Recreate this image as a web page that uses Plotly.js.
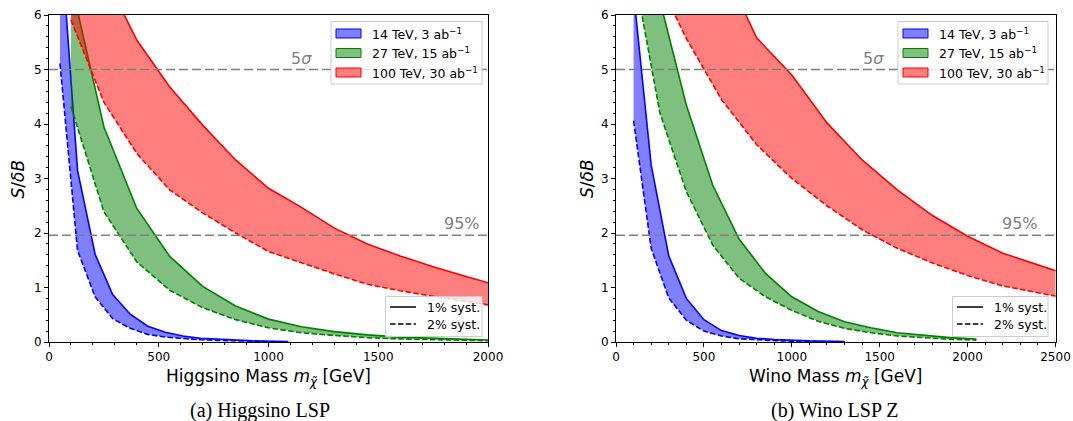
<!DOCTYPE html>
<html>
<head>
<meta charset="utf-8">
<script src="https://cdn.plot.ly/plotly-3.0.1.min.js"></script>
<style>
  html, body { margin: 0; padding: 0; background: #fff; }
  #chart { width: 1073px; height: 421px; }
</style>
</head>
<body>
<div id="chart"></div>
<script>
// S/deltaB reach bands: solid = 1% syst., dashed = 2% syst.

// (a) Higgsino LSP
const higgsBlueMass = [50, 130, 210, 290, 370, 450, 530, 610, 690, 770, 850, 930, 1010, 1090];
const higgsBlue1 = [7.6, 3.15, 1.61, 0.87, 0.51, 0.29, 0.18, 0.11, 0.07, 0.05, 0.03, 0.02, 0.015, 0.01];
const higgsBlue2 = [5.11, 1.68, 0.83, 0.43, 0.25, 0.14, 0.09, 0.06, 0.04, 0.03, 0.02, 0.012, 0.008, 0.005];

const higgsMass = [100, 250, 400, 550, 700, 850, 1000, 1150, 1300, 1450, 1600, 1750, 1900, 2050];
const higgsGreen1 = [6.6, 3.95, 2.45, 1.57, 1.02, 0.66, 0.42, 0.28, 0.19, 0.13, 0.09, 0.065, 0.045, 0.03];
const higgsGreen2 = [4.32, 2.39, 1.47, 0.95, 0.63, 0.41, 0.26, 0.17, 0.12, 0.08, 0.055, 0.04, 0.03, 0.02];
const higgsRed1 = [8.5, 6.75, 5.54, 4.68, 3.98, 3.34, 2.82, 2.47, 2.09, 1.80, 1.58, 1.38, 1.20, 1.03];
const higgsRed2 = [5.91, 4.40, 3.46, 2.79, 2.37, 2.00, 1.66, 1.45, 1.25, 1.06, 0.94, 0.84, 0.74, 0.65];

// (b) Wino LSP
const winoBlueMass = [100, 200, 300, 400, 500, 600, 700, 800, 900, 1000, 1100, 1200, 1300];
const winoBlue1 = [6.4, 3.25, 1.58, 0.80, 0.41, 0.21, 0.12, 0.07, 0.045, 0.03, 0.02, 0.015, 0.01];
const winoBlue2 = [4.06, 1.72, 0.81, 0.40, 0.20, 0.11, 0.06, 0.04, 0.025, 0.015, 0.01, 0.008, 0.005];

const winoGreenMass = [100, 250, 400, 550, 700, 850, 1000, 1150, 1300, 1450, 1600, 1750, 1900, 2050];
const winoGreen1 = [9.0, 6.26, 4.35, 2.88, 1.89, 1.26, 0.83, 0.56, 0.37, 0.26, 0.17, 0.12, 0.08, 0.055];
const winoGreen2 = [6.83, 4.20, 2.76, 1.78, 1.17, 0.83, 0.58, 0.38, 0.25, 0.17, 0.11, 0.08, 0.05, 0.035];

const winoRedMass = [200, 400, 600, 800, 1000, 1200, 1400, 1600, 1800, 2000, 2200, 2400, 2600];
const winoRed1 = [11.5, 9.0, 6.95, 5.58, 4.90, 4.02, 3.34, 2.79, 2.32, 1.94, 1.63, 1.42, 1.20];
const winoRed2 = [6.9, 5.57, 4.45, 3.62, 3.00, 2.50, 2.06, 1.72, 1.45, 1.22, 1.03, 0.90, 0.78];

const thresholds = [5, 1.96];
const thresholdLabels = ['5<i>σ</i>', '95%'];
const bandLabels = ['14 TeV, 3 ab<sup>−1</sup>', '27 TeV, 15 ab<sup>−1</sup>', '100 TeV, 30 ab<sup>−1</sup>'];
const systLabels = ['1% syst.', '2% syst.'];

const W = 1073, H = 421;
const px = x => x / W;
const py = y => 1 - y / H;

const COLORS = [
  { line: '#0000ff', fill: 'rgba(0,0,255,0.5)' },
  { line: '#008000', fill: 'rgba(0,128,0,0.5)' },
  { line: '#ff0000', fill: 'rgba(255,0,0,0.5)' },
];
const DASH = '5.5px,2.4px';

function band(x, solid, dashed, c, xa, ya) {
  return [
    { x: x, y: dashed, xaxis: xa, yaxis: ya, mode: 'lines', type: 'scatter',
      line: { color: c.line, width: 1.6, dash: DASH }, hoverinfo: 'skip' },
    { x: x, y: solid, xaxis: xa, yaxis: ya, mode: 'lines', type: 'scatter',
      fill: 'tonexty', fillcolor: c.fill,
      line: { color: c.line, width: 1.6 }, hoverinfo: 'skip' },
  ];
}

const data = [
  ...band(higgsBlueMass, higgsBlue1, higgsBlue2, COLORS[0], 'x', 'y'),
  ...band(higgsMass, higgsGreen1, higgsGreen2, COLORS[1], 'x', 'y'),
  ...band(higgsMass, higgsRed1, higgsRed2, COLORS[2], 'x', 'y'),
  ...band(winoBlueMass, winoBlue1, winoBlue2, COLORS[0], 'x2', 'y2'),
  ...band(winoGreenMass, winoGreen1, winoGreen2, COLORS[1], 'x2', 'y2'),
  ...band(winoRedMass, winoRed1, winoRed2, COLORS[2], 'x2', 'y2'),
];

const tickFont = { family: 'DejaVu Sans', size: 12, color: '#000' };
function xAxis(domain, max, anchor) {
  return {
    domain: domain, range: [0, max], anchor: anchor, dtick: 500,
    showgrid: false, zeroline: false, showline: true, mirror: true,
    linecolor: '#000', linewidth: 1, ticks: 'outside', ticklen: 4, tickcolor: '#000',
    tickfont: tickFont, fixedrange: true,
    minor: { dtick: 100, ticks: 'outside', ticklen: 2, tickcolor: '#000' },
  };
}
function yAxis(anchor) {
  return {
    domain: [py(342), py(15)], range: [0, 6], anchor: anchor, dtick: 1,
    showgrid: false, zeroline: false, showline: true, mirror: true,
    linecolor: '#000', linewidth: 1, ticks: 'outside', ticklen: 4, tickcolor: '#000',
    tickfont: tickFont, fixedrange: true,
    minor: { dtick: 0.2, ticks: 'outside', ticklen: 2, tickcolor: '#000' },
  };
}

const shapes = [];
const annotations = [];

// threshold lines
[['x', 'y'], ['x2', 'y2']].forEach(([xa, ya]) => {
  thresholds.forEach(t => {
    shapes.push({ type: 'line', xref: xa + ' domain', yref: ya, x0: 0, x1: 1, y0: t, y1: t,
      line: { color: '#808080', width: 1.5, dash: '9px,4px' }, layer: 'above' });
  });
});

// threshold text
const thrText = [
  { xa: 'x', ya: 'y', xs: [1150, 1880] },
  { xa: 'x2', ya: 'y2', xs: [1465, 2300] },
];
thrText.forEach(p => {
  thresholds.forEach((t, i) => {
    annotations.push({ xref: p.xa, yref: p.ya, x: p.xs[i], y: t, yanchor: 'bottom',
      text: thresholdLabels[i], showarrow: false,
      font: { family: 'DejaVu Sans', size: 16, color: '#808080' } });
  });
});

// hand-built legends (matplotlib style)
function legendBands(x0, x1) {
  shapes.push({ type: 'rect', xref: 'paper', yref: 'paper', x0: px(x0), x1: px(x1), y0: py(84), y1: py(21.5),
    fillcolor: 'rgba(255,255,255,0.8)', line: { color: '#cccccc', width: 1 }, layer: 'above' });
  const rows = [33.5, 53, 72.5];
  rows.forEach((r, i) => {
    shapes.push({ type: 'rect', xref: 'paper', yref: 'paper', x0: px(x0 + 5), x1: px(x0 + 30),
      y0: py(r + 4.5), y1: py(r - 4.5), fillcolor: COLORS[i].fill,
      line: { color: COLORS[i].line, width: 1 }, layer: 'above' });
    annotations.push({ xref: 'paper', yref: 'paper', x: px(x0 + 39), y: py(r), xanchor: 'left', yanchor: 'middle',
      text: bandLabels[i], showarrow: false, font: { family: 'DejaVu Sans', size: 12.5, color: '#000' } });
  });
}
function legendSyst(x0, x1) {
  shapes.push({ type: 'rect', xref: 'paper', yref: 'paper', x0: px(x0), x1: px(x1), y0: py(336.5), y1: py(296.5),
    fillcolor: 'rgba(255,255,255,0.8)', line: { color: '#cccccc', width: 1 }, layer: 'above' });
  const rows = [307, 324];
  rows.forEach((r, i) => {
    shapes.push({ type: 'line', xref: 'paper', yref: 'paper', x0: px(x0 + 4.5), x1: px(x0 + 30.5), y0: py(r), y1: py(r),
      line: { color: '#000', width: 1.5, dash: i === 0 ? 'solid' : DASH }, layer: 'above' });
    annotations.push({ xref: 'paper', yref: 'paper', x: px(x0 + 39), y: py(r), xanchor: 'left', yanchor: 'middle',
      text: systLabels[i], showarrow: false, font: { family: 'DejaVu Sans', size: 12.5, color: '#000' } });
  });
}
legendBands(331, 482);
legendBands(898, 1048);
legendSyst(385.5, 482);
legendSyst(952.5, 1048);

// axis titles and captions
const labelFont = { family: 'DejaVu Sans', size: 17, color: '#000' };
annotations.push(
  { xref: 'paper', yref: 'paper', x: px(268.5), y: py(377), text: 'Higgsino Mass <i>m</i><sub><i>χ̃</i></sub> [GeV]',
    showarrow: false, font: labelFont, xanchor: 'center', yanchor: 'middle' },
  { xref: 'paper', yref: 'paper', x: px(835.5), y: py(377), text: 'Wino Mass <i>m</i><sub><i>χ̃</i></sub> [GeV]',
    showarrow: false, font: labelFont, xanchor: 'center', yanchor: 'middle' },
  { xref: 'paper', yref: 'paper', x: px(17.5), y: py(179), text: '<i>S</i>/<i>δB</i>', textangle: -90,
    showarrow: false, font: labelFont, xanchor: 'center', yanchor: 'middle' },
  { xref: 'paper', yref: 'paper', x: px(587), y: py(179), text: '<i>S</i>/<i>δB</i>', textangle: -90,
    showarrow: false, font: labelFont, xanchor: 'center', yanchor: 'middle' },
  { xref: 'paper', yref: 'paper', x: px(260), y: py(410), text: '(a) Higgsino LSP',
    showarrow: false, font: { family: 'Liberation Serif', size: 20, color: '#000' }, xanchor: 'center', yanchor: 'middle' },
  { xref: 'paper', yref: 'paper', x: px(835), y: py(410), text: '(b) Wino LSP Z',
    showarrow: false, font: { family: 'Liberation Serif', size: 20, color: '#000' }, xanchor: 'center', yanchor: 'middle' }
);

const layout = {
  width: W, height: H,
  margin: { l: 0, r: 0, t: 0, b: 0 },
  paper_bgcolor: '#fff', plot_bgcolor: '#fff',
  showlegend: false,
  font: { family: 'DejaVu Sans', color: '#000' },
  xaxis: xAxis([px(49), px(488)], 2000, 'y'),
  yaxis: yAxis('x'),
  xaxis2: xAxis([px(616), px(1055.5)], 2500, 'y2'),
  yaxis2: yAxis('x2'),
  shapes: shapes,
  annotations: annotations,
};

Plotly.newPlot('chart', data, layout, { displayModeBar: false, staticPlot: true });
</script>
</body>
</html>
